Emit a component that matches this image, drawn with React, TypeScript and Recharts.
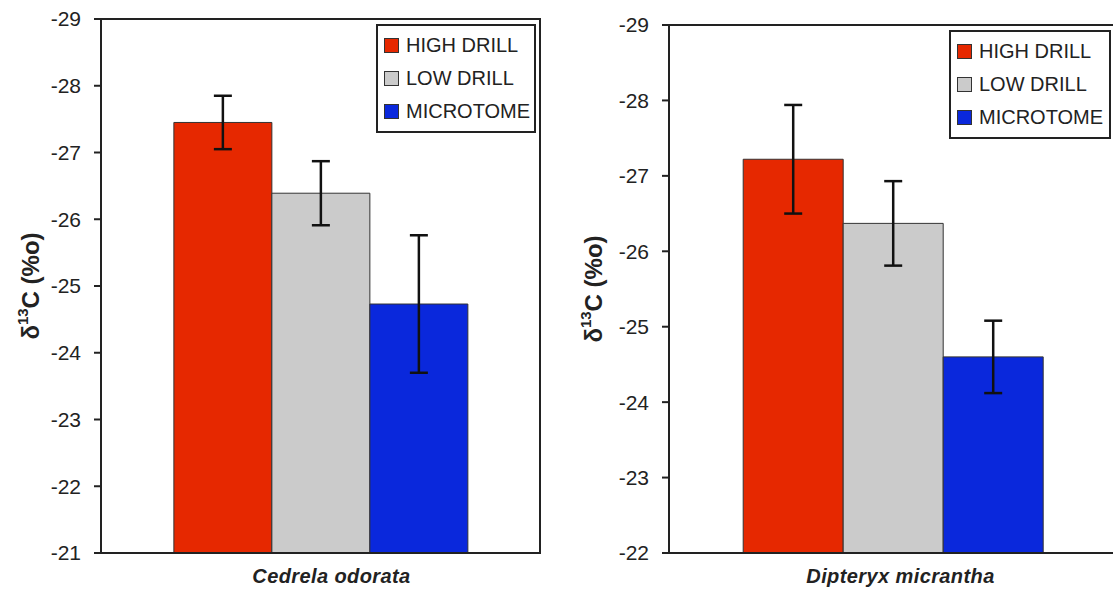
import React from 'react';
import { BarChart, Bar, XAxis, YAxis, ErrorBar, ReferenceArea, Legend } from 'recharts';

// values (delta 13C, per mil)
const cedrelaCategories = ['Cedrela odorata'];
const cedrelaHigh = [-27.45];
const cedrelaHighErr = [0.4];
const cedrelaLow = [-26.39];
const cedrelaLowErr = [0.48];
const cedrelaMicro = [-24.73];
const cedrelaMicroErr = [1.03];
const cedrelaTicks = [-29, -28, -27, -26, -25, -24, -23, -22, -21];

const dipteryxCategories = ['Dipteryx micrantha'];
const dipteryxHigh = [-27.22];
const dipteryxHighErr = [0.72];
const dipteryxLow = [-26.37];
const dipteryxLowErr = [0.56];
const dipteryxMicro = [-24.6];
const dipteryxMicroErr = [0.48];
const dipteryxTicks = [-29, -28, -27, -26, -25, -24, -23, -22];

const SERIES = [
  { key: 'high', name: 'HIGH DRILL', color: '#e62800' },
  { key: 'low', name: 'LOW DRILL', color: '#cbcbcb' },
  { key: 'micro', name: 'MICROTOME', color: '#0a28dc' },
];

const FONT = "'Liberation Sans', Arial, sans-serif";
const INK = '#222';

const buildRows = (cats: string[], high: number[], highErr: number[], low: number[], lowErr: number[], micro: number[], microErr: number[]) =>
  cats.map((name, i) => ({
    name,
    high: high[i],
    highErr: highErr[i],
    low: low[i],
    lowErr: lowErr[i],
    micro: micro[i],
    microErr: microErr[i],
  }));

const YLabel = (props: any) => {
  const { viewBox, dx } = props;
  const cx = viewBox.x + dx;
  const cy = viewBox.y + viewBox.height / 2;
  return (
    <text
      x={cx}
      y={cy}
      transform={`rotate(-90, ${cx}, ${cy})`}
      textAnchor="middle"
      dominantBaseline="central"
      fontFamily={FONT}
      fontWeight="bold"
      fontSize={24}
      fill={INK}
    >
      δ<tspan dy={-8} fontSize={15}>13</tspan><tspan dy={8}>C (%o)</tspan>
    </text>
  );
};

const LegendBox = () => (
  <div style={{ border: `2px solid ${INK}`, background: '#fff', padding: '3px 0 3px 6px', fontFamily: FONT }}>
    {SERIES.map((s) => (
      <div key={s.key} style={{ display: 'flex', alignItems: 'center', height: 33, whiteSpace: 'nowrap' }}>
        <span style={{ flexShrink: 0, width: 13, height: 13, background: s.color, border: '1px solid #333', marginRight: 7 }} />
        <span style={{ fontSize: 20, color: INK, lineHeight: '33px' }}>{s.name}</span>
      </div>
    ))}
  </div>
);

type PanelProps = {
  rows: any[];
  ticks: number[];
  domain: [number, number];
  top: number;
  right: number;
  axisWidth: number;
  labelDx: number;
  nameDx: number;
  legendPos: { left: number; top: number; width: number };
};

const Panel = ({ rows, ticks, domain, top, right, axisWidth, labelDx, nameDx, legendPos }: PanelProps) => (
  <BarChart
    width={560}
    height={594}
    data={rows}
    margin={{ top, right, bottom: 0, left: 0 }}
    barCategoryGap="16.6%"
    barGap={0}
  >
    <XAxis
      dataKey="name"
      height={41}
      tickLine={false}
      tickSize={0}
      tickMargin={16}
      axisLine={{ stroke: INK, strokeWidth: 2 }}
      tick={{ fill: INK, fontFamily: FONT, fontSize: 20, fontStyle: 'italic', fontWeight: 'bold', letterSpacing: 0.4, dx: nameDx }}
    />
    <YAxis
      type="number"
      domain={domain}
      ticks={ticks}
      reversed
      allowDataOverflow
      width={axisWidth}
      tickSize={7}
      tickMargin={13}
      axisLine={{ stroke: INK, strokeWidth: 2 }}
      tickLine={{ stroke: INK, strokeWidth: 2 }}
      tick={{ fill: INK, fontFamily: FONT, fontSize: 21 }}
      label={<YLabel dx={labelDx} />}
    />
    <ReferenceArea y1={domain[0]} y2={domain[1]} fill="none" stroke={INK} strokeWidth={2} ifOverflow="visible" />
    {SERIES.map((s) => (
      <Bar key={s.key} dataKey={s.key} name={s.name} fill={s.color} stroke="#333" strokeWidth={1} isAnimationActive={false}>
        <ErrorBar dataKey={`${s.key}Err`} width={9} stroke="#111" strokeWidth={2.5} />
      </Bar>
    ))}
    <Legend
      layout="vertical"
      align="center"
      verticalAlign="middle"
      content={<LegendBox />}
      wrapperStyle={{ left: legendPos.left, top: legendPos.top, width: legendPos.width, bottom: 'auto' }}
    />
  </BarChart>
);

export default function App() {
  const cedrelaRows = buildRows(cedrelaCategories, cedrelaHigh, cedrelaHighErr, cedrelaLow, cedrelaLowErr, cedrelaMicro, cedrelaMicroErr);
  const dipteryxRows = buildRows(dipteryxCategories, dipteryxHigh, dipteryxHighErr, dipteryxLow, dipteryxLowErr, dipteryxMicro, dipteryxMicroErr);

  return (
    <div style={{ position: 'absolute', left: 0, top: 0, width: 1113, height: 594, overflow: 'hidden', background: '#fff' }}>
      <div style={{ position: 'absolute', left: 0, top: 0 }}>
        <Panel
          rows={cedrelaRows}
          ticks={cedrelaTicks}
          domain={[-29, -21]}
          top={19}
          right={20}
          axisWidth={101}
          labelDx={30}
          nameDx={11}
          legendPos={{ left: 376, top: 24, width: 160 }}
        />
      </div>
      <div style={{ position: 'absolute', left: 560, top: 0 }}>
        <Panel
          rows={dipteryxRows}
          ticks={dipteryxTicks}
          domain={[-29, -22]}
          top={25}
          right={4}
          axisWidth={109}
          labelDx={33}
          nameDx={8}
          legendPos={{ left: 389, top: 30, width: 162 }}
        />
      </div>
    </div>
  );
}
